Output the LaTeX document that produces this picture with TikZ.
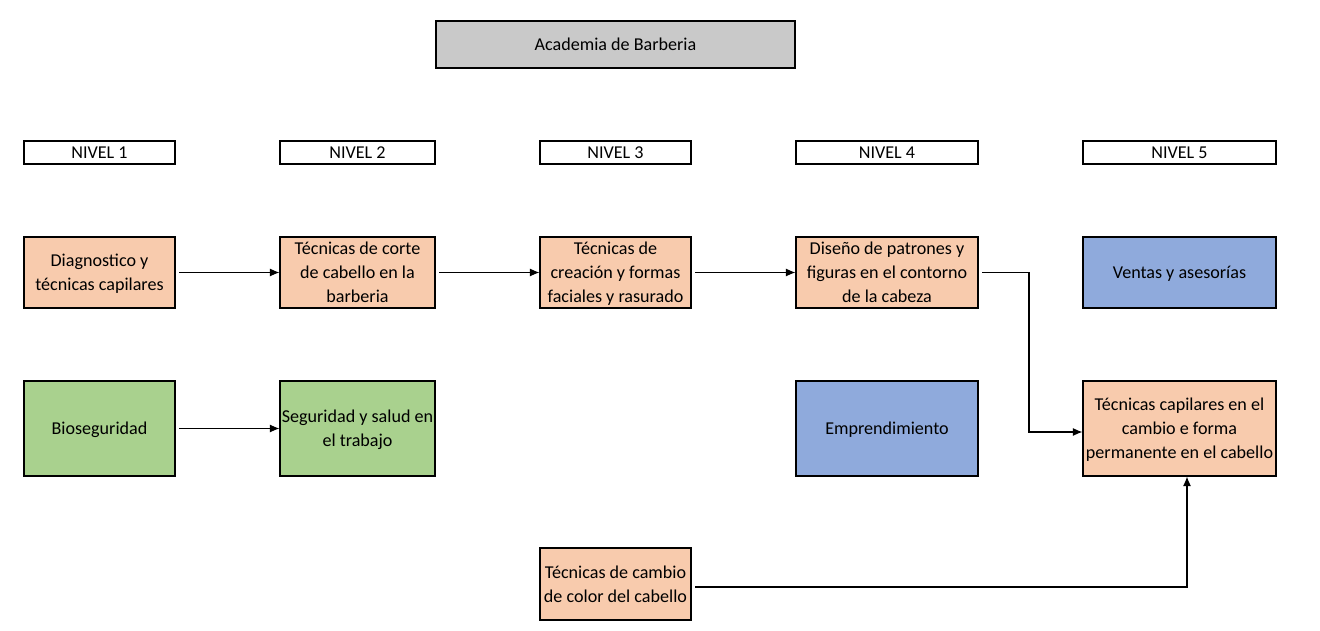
\documentclass[tikz,border=0pt]{standalone}
\usepackage{fontspec}
\setmainfont{Carlito}
\usetikzlibrary{arrows,arrows.meta,positioning,calc}
\definecolor{boxgray}{HTML}{C9C9C9}
\definecolor{boxorange}{HTML}{F8CBAD}
\definecolor{boxgreen}{HTML}{A9D18E}
\definecolor{boxblue}{HTML}{8FAADC}
\newcommand{\px}{0.02cm}
\newcommand{\bnode}[6]{
  \node [draw,fill=#4,minimum width=#2*\px,minimum height=#3*\px,inner sep=0pt,
    text depth=0pt,align=center,font=\fontsize{10.3}{13.6}\selectfont] (#6) at #1 {#5};
}
\newcommand{\bedge}[2]{
  \draw [->,shorten <=2pt] #1 -- #2;
}

\begin{document}
\begin{tikzpicture}[x=0.02cm,y=-0.02cm,>={Latex[length=5.5pt,width=4.6pt]},line width=0.6pt]
  \useasboundingbox (0,0) rectangle (1320,631);
  \bnode{(615.5,44.5)}{359}{47}{boxgray}{Academia de Barberia}{acad}

  \bnode{(99.5,152.5)}{151}{23}{white}{NIVEL 1}{n1}
  \bnode{(357.5,152.5)}{155}{23}{white}{NIVEL 2}{n2}
  \bnode{(615.5,152.5)}{151}{23}{white}{NIVEL 3}{n3}
  \bnode{(887,152.5)}{182}{23}{white}{NIVEL 4}{n4}
  \bnode{(1179.5,152.5)}{193}{23}{white}{NIVEL 5}{n5}

  \bnode{(99.5,272.5)}{151}{71}{boxorange}{Diagnostico y\\técnicas capilares}{diag}
  \bnode{(357.5,272.5)}{155}{71}{boxorange}{Técnicas de corte\\de cabello en la\\barberia}{corte}
  \bnode{(615.5,272.5)}{151}{71}{boxorange}{Técnicas de\\creación y formas\\faciales y rasurado}{crea}
  \bnode{(887,272.5)}{182}{71}{boxorange}{Diseño de patrones y\\figuras en el contorno\\de la cabeza}{dise}
  \bnode{(1179.5,272.5)}{193}{71}{boxblue}{Ventas y asesorías}{vent}

  \bnode{(99.5,428.5)}{151}{95}{boxgreen}{Bioseguridad}{bios}
  \bnode{(357.5,428.5)}{155}{95}{boxgreen}{Seguridad y salud en\\el trabajo}{segu}
  \bnode{(887,428.5)}{182}{95}{boxblue}{Emprendimiento}{empr}
  \bnode{(1179.5,428.5)}{193}{95}{boxorange}{Técnicas capilares en el\\cambio e forma\\permanente en el cabello}{capi}

  \bnode{(615.5,584)}{151}{72}{boxorange}{Técnicas de cambio\\de color del cabello}{colo}

  \bedge{(diag.east)}{(corte.west)}
  \bedge{(corte.east)}{(crea.west)}
  \bedge{(crea.east)}{(dise.west)}
  \bedge{(bios.east)}{(segu.west)}

  \coordinate (k1) at (1029,432);
  \draw [->,shorten <=2pt] (dise.east) -| (k1) -- (k1 -| capi.west);
  \coordinate (k2) at (1187,587);
  \draw [->,shorten <=2pt] (colo.east |- k2) -- (k2) -- (k2 |- capi.south);
\end{tikzpicture}
\end{document}
